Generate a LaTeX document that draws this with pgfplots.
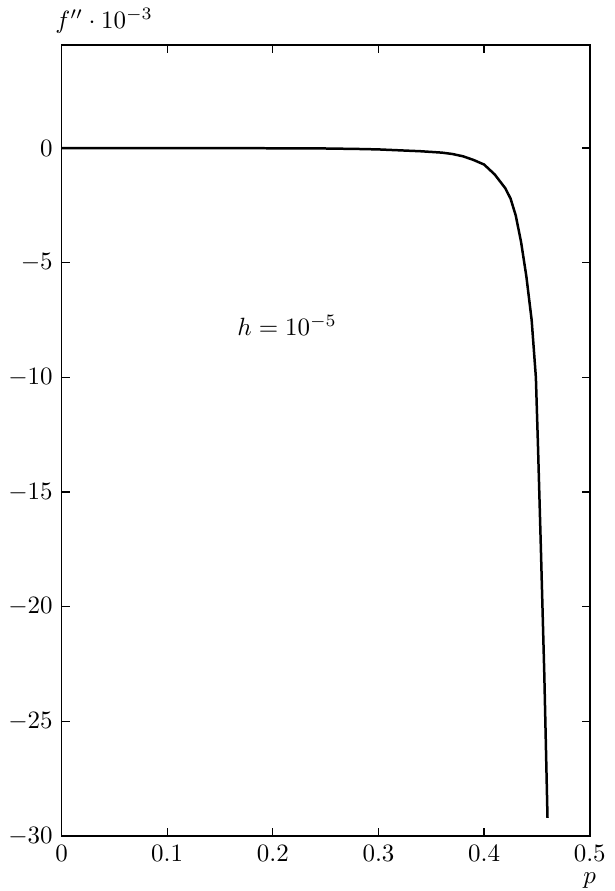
\documentclass[border=0pt]{standalone}
\usepackage{pgfplots}
\pgfplotsset{compat=1.18}
\begin{document}
\begin{tikzpicture}
\begin{axis}[
    scale only axis,
    width=211.6pt, height=317pt,
    xmin=0, xmax=0.5,
    ymin=-30, ymax=4.5,
    xtick={0,0.1,0.2,0.3,0.4,0.5},
    ytick={-30,-25,-20,-15,-10,-5,0},
    xticklabel style={/pgf/number format/.cd, fixed, precision=1},
    tick align=inside,
    major tick length=3.2pt,
    axis line style={line width=0.6pt},
    tick style={line width=0.5pt, black},
    xlabel={$p$},
    ylabel={$f'' \cdot 10^{-3}$},
    every axis x label/.style={at={(rel axis cs:1,0)}, anchor=north, inner sep=1pt, yshift=-13.5pt},
    every axis y label/.style={at={(rel axis cs:0,1)}, anchor=south west, xshift=-6pt, yshift=1pt},
]
\addplot[black, line width=1pt] coordinates {
    (0,0) (0.05,0) (0.1,0) (0.15,-0.005) (0.2,-0.01) (0.25,-0.02)
    (0.28,-0.04) (0.3,-0.06) (0.32,-0.1) (0.34,-0.14) (0.36,-0.2)
    (0.37,-0.26) (0.38,-0.36) (0.39,-0.52) (0.40,-0.72) (0.41,-1.15)
    (0.42,-1.75) (0.425,-2.2) (0.43,-2.95) (0.435,-4.1) (0.44,-5.6)
    (0.445,-7.5) (0.449,-10) (0.451,-13) (0.4537,-17.4) (0.457,-23)
    (0.460,-29.2)
};
\node at (axis cs:0.2136,-7.74) {$h = 10^{-5}$};
\end{axis}
\end{tikzpicture}
\end{document}
